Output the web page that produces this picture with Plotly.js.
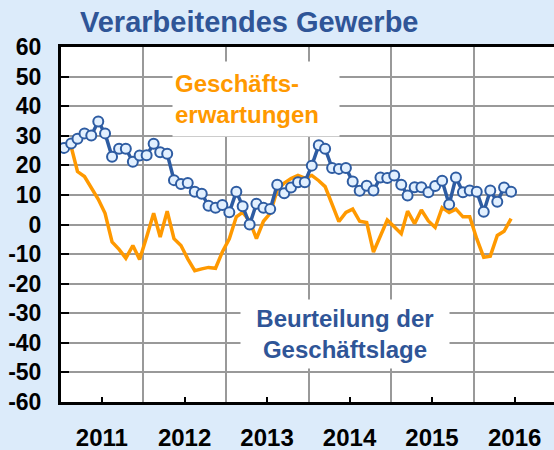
<!DOCTYPE html>
<html>
<head>
<meta charset="utf-8">
<script src="https://cdn.plot.ly/plotly-3.0.1.min.js"></script>
<style>html,body{margin:0;padding:0;overflow:hidden;background:#dcebfa;}#chart{width:554px;height:450px;}</style>
</head>
<body>
<div id="chart"></div>
<script>
// Monthly observations Jan 2011 - Jun 2016
const startYear = 2011;
const nMonths = 66;
const months = [];
for (let i = 0; i < nMonths; i++) {
  const y = startYear + Math.floor(i / 12);
  const m = (i % 12) + 1;
  months.push(y + '-' + String(m).padStart(2, '0') + '-15');
}

// Beurteilung der Geschäftslage (blue, markers)
const lage = [25.9, 27.4, 29.0, 30.8, 30.1, 34.8, 30.8, 22.9, 25.6, 25.6, 21.2, 23.3,
              23.4, 27.3, 24.4, 23.9, 15.0, 13.7, 14.0, 11.1, 10.4, 6.3, 5.7, 6.6,
              4.1, 11.1, 6.2, 0.0, 7.0, 5.7, 5.2, 13.4, 10.6, 12.5, 14.3, 14.3,
              19.9, 26.8, 25.6, 19.1, 18.8, 19.1, 14.5, 11.4, 13.1, 11.5, 15.9, 15.7,
              16.6, 13.4, 9.8, 12.6, 12.6, 10.9, 13.0, 14.8, 6.8, 15.9, 10.9, 11.5,
              11.1, 4.3, 11.5, 7.7, 12.5, 11.1];

// Geschäftserwartungen (orange line)
const erwartungen = [null, 26.3, 17.9, 16.2, 12.3, 8.5, 3.8, -5.9, -8.4, -11.4, -7.1, -11.8,
              -4.2, 3.8, -4.2, 4.5, -4.8, -7.1, -11.6, -15.6, -15.0, -14.5, -14.8, -9.3,
              -4.8, 2.6, 4.1, 1.2, -4.8, 1.1, 3.8, 11.7, 14.0, 15.5, 16.6, 15.7,
              16.6, 14.8, 12.8, 7.0, 1.0, 4.1, 5.2, 1.1, 0.7, -9.3, -3.7, 1.5,
              -0.8, -3.1, 4.5, 0.3, 4.9, 1.2, -1.0, 5.7, 4.1, 5.2, 2.6, 2.6,
              -4.8, -11.1, -10.7, -3.7, -2.3, 2.0];

const yearLabels = ['2011', '2012', '2013', '2014', '2015', '2016'];
const yearTickPos = yearLabels.map(y => y + '-07-01');
const yTicks = [60, 50, 40, 30, 20, 10, 0, -10, -20, -30, -40, -50, -60];

const FONT = 'Liberation Sans, Arial, sans-serif';
const BLUE = '#2f5597';
const ORANGE = '#ff9900';

const traces = [
  {x: months, y: erwartungen, type: 'scatter', mode: 'lines',
   line: {color: ORANGE, width: 3.5}, connectgaps: false, hoverinfo: 'skip'},
  {x: months, y: lage, type: 'scatter', mode: 'lines+markers',
   line: {color: '#2e5ca2', width: 3.5},
   marker: {symbol: 'circle', size: 10, color: '#e2f0ff', line: {color: '#2e5ca2', width: 2}},
   hoverinfo: 'skip'}
];

const layout = {
  width: 554, height: 450,
  paper_bgcolor: '#dcebfa', plot_bgcolor: '#ffffff',
  margin: {l: 61, r: 0, t: 47, b: 48},
  showlegend: false,
  font: {family: FONT, color: '#000'},
  title: {text: '<b>Verarbeitendes Gewerbe</b>', font: {family: FONT, size: 29, color: BLUE},
          x: 80/554, xref: 'container', xanchor: 'left',
          y: 1 - 22/450, yref: 'container', yanchor: 'middle'},
  xaxis: {
    type: 'date', range: ['2011-01-01', '2016-12-22'],
    tickmode: 'array', tickvals: yearTickPos, ticktext: yearLabels.map(t => '<b>' + t + '</b>'),
    ticks: 'inside', ticklen: 5, tickwidth: 2, tickcolor: '#000',
    tickfont: {family: FONT, size: 24, color: '#000'},
    ticklabelstandoff: 12,
    showgrid: false, zeroline: false,
    showline: true, linecolor: '#000', linewidth: 3, mirror: true,
    minor: {tick0: '2011-01-01', dtick: 'M12', showgrid: true, gridcolor: '#999999', gridwidth: 2, ticks: ''}
  },
  yaxis: {
    range: [-60, 60], tickmode: 'array', tickvals: yTicks, ticktext: yTicks.map(v => '<b>' + v + '</b>'),
    ticks: 'inside', ticklen: 8, tickwidth: 2, tickcolor: '#000',
    tickfont: {family: FONT, size: 23, color: '#000'},
    ticklabelstandoff: 12,
    showgrid: true, gridcolor: '#999999', gridwidth: 2, zeroline: false,
    showline: true, linecolor: '#000', linewidth: 3
  },
  annotations: [
    {text: '<b>Geschäfts-<br>erwartungen</b>', xref: 'paper', yref: 'paper',
     x: (172 - 61) / 493, y: (403 - 61) / 356, xanchor: 'left', yanchor: 'top',
     width: 162, height: 70, borderpad: 2, align: 'left', valign: 'middle',
     bgcolor: '#ffffff', showarrow: false,
     font: {family: FONT, size: 24, color: ORANGE}},
    {text: '<b>Beurteilung der<br>Geschäftslage</b>', xref: 'paper', yref: 'paper',
     x: (240 - 61) / 493, y: (403 - 300) / 356, xanchor: 'left', yanchor: 'top',
     width: 204, height: 64, borderpad: 2, align: 'center', valign: 'middle',
     bgcolor: '#ffffff', showarrow: false,
     font: {family: FONT, size: 24, color: BLUE}}
  ]
};

Plotly.newPlot('chart', traces, layout, {staticPlot: true, displayModeBar: false});
</script>
</body>
</html>
